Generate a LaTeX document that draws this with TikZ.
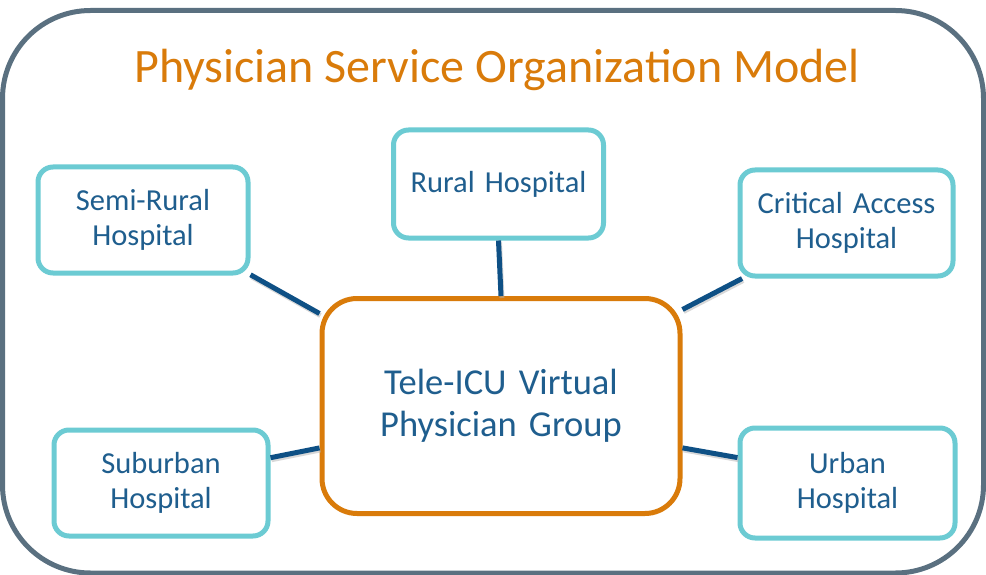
\documentclass[tikz,border=0pt]{standalone}
\usepackage{fontspec}
\setmainfont{Carlito}
\definecolor{framegray}{HTML}{5A7080}
\definecolor{titleorange}{HTML}{D97B0A}
\definecolor{teal}{HTML}{6CCBD3}
\definecolor{textblue}{HTML}{1F5E8E}
\definecolor{linkblue}{HTML}{0E5085}
\tikzset{
    hospital/.style={
        rectangle,
        draw=teal,
        line width=5pt,
        fill=white,
        rounded corners=15pt,
        minimum width=210pt,
        minimum height=106pt,
        text width=200pt,
        align=center,
        text=textblue,
        font=\fontsize{30.5}{35}\selectfont
    },
    group/.style={
        hospital,
        draw=titleorange,
        rounded corners=35pt,
        minimum width=358pt,
        minimum height=215pt,
        text width=340pt,
        font=\fontsize{36.5}{42}\selectfont
    },
    link/.style={
        line width=5pt,
        draw=linkblue,
        preaction={draw=black!30, line width=5pt, opacity=0.5,
            transform canvas={shift={(1pt,-2pt)}}}
    }
}
\begin{document}
\begin{tikzpicture}[x=1pt, y=-1pt]
    \useasboundingbox (0,0) rectangle (986,575);
    \draw[framegray, line width=5pt, rounded corners=88pt] (2.5,10.5) rectangle (983.5,573);

    \node[text=titleorange, font=\fontsize{48}{56}\selectfont] (title) at (497,70) {Physician Service Organization Model};

    \node[group] (vpg) at (501,406) {Tele-ICU Virtual\\Physician Group};

    \node[hospital] (semirural) at (143,220) {Semi-Rural\\Hospital};
    \node[hospital, minimum height=108pt] (rural) at (498.5,184) {Rural Hospital};
    \node[hospital, minimum width=213pt] (critical) at (846.5,223) {Critical Access\\Hospital};
    \node[hospital, minimum width=214pt] (suburban) at (161,483) {Suburban\\Hospital};
    \node[hospital, minimum width=215pt, minimum height=110pt] (urban) at (847.5,483) {Urban\\Hospital};

    \draw[link] (semirural.-27) -- (vpg.153);
    \draw[link] (rural.south) -- (vpg.north);
    \draw[link] (critical.-152) -- (vpg.28);
    \draw[link] (suburban.13) -- (vpg.-167);
    \draw[link] (urban.167) -- (vpg.-13);

\end{tikzpicture}
\end{document}
